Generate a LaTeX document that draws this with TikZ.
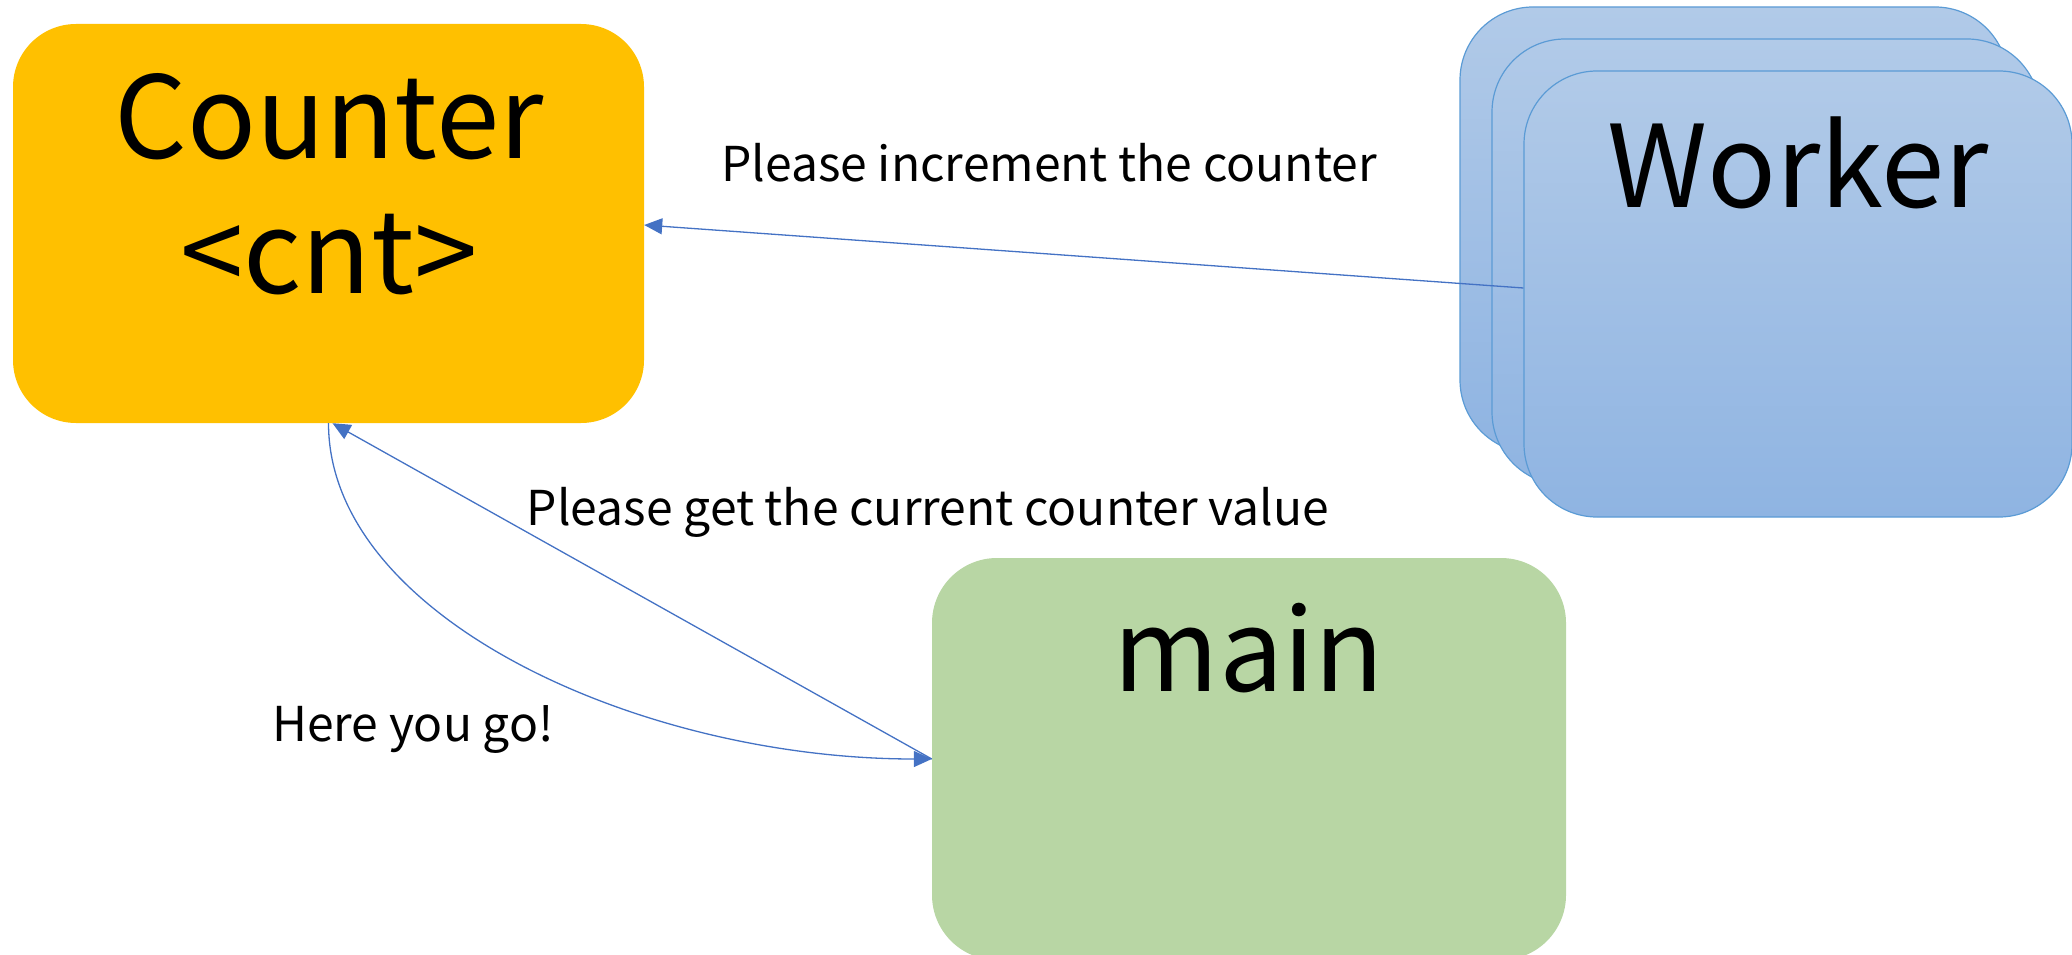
\documentclass[tikz,border=0pt]{standalone}
\usepackage{fontspec}
\setmainfont{Noto Sans CJK JP}
\usetikzlibrary{arrows.meta,calc}
\definecolor{cntfill}{HTML}{FFC000}
\definecolor{mainfill}{HTML}{B8D6A4}
\definecolor{wtop}{HTML}{B1CAE8}
\definecolor{wbot}{HTML}{8FB4E2}
\definecolor{wline}{HTML}{5B9BD5}
\definecolor{arr}{HTML}{4472C4}
\tikzset{
 box/.style={rectangle, inner sep=0pt},
 wbox/.style={rectangle, rounded corners=73pt, top color=wtop, bottom color=wbot, draw=wline, line width=1.2pt, minimum width=548pt, minimum height=446pt, inner sep=0pt},
 big/.style={font=\fontsize{114}{130}\selectfont, anchor=base, inner sep=0pt},
 lbl/.style={font=\fontsize{48}{58}\selectfont, anchor=base, inner sep=0pt},
 conn/.style={draw=arr, line width=1.3pt},
 tip/.style={-{Triangle[length=18pt,width=16pt]}},
}
\begin{document}
\begin{tikzpicture}[x=1pt,y=-1pt]
\useasboundingbox (0,0) rectangle (2072,955);
\clip (0,0) rectangle (2072,955);
\node[box, fill=cntfill, rounded corners=63pt, minimum width=631pt, minimum height=399pt] (counter) at (328.5,223.5) {};
\node[big] (counterT1) at (329,159) {Counter};
\node[big] (counterT2) at (329,293) {<cnt>};
\node[wbox] (w1) at (1734,230) {};
\node[wbox] (w2) at (1766,262) {};
\node[wbox] (w3) at (1798,294) {};
\node[big] (wT) at (1798,207) {Worker};
\node[box, fill=mainfill, rounded corners=65pt, minimum width=634pt, minimum height=402pt] (main) at (1249,759) {};
\node[big] (mainT) at (1249,691) {main};
\draw[conn, tip] ([yshift=6pt]w3.west) -- ([yshift=-1.5pt]counter.east);
\draw[conn, tip] (main.west) -- ([xshift=4pt]counter.south);
\draw[conn, tip] (counter.south) .. controls ($(counter.south)+(0,194)$) and ($(main.west)+(-292,0)$) .. (main.west);
\node[lbl] (l1) at (1049,182) {Please increment the counter};
\node[lbl] (l2) at (928,525) {Please get the current counter value};
\node[lbl] (l3) at (413,741) {Here you go!};
\end{tikzpicture}
\end{document}
